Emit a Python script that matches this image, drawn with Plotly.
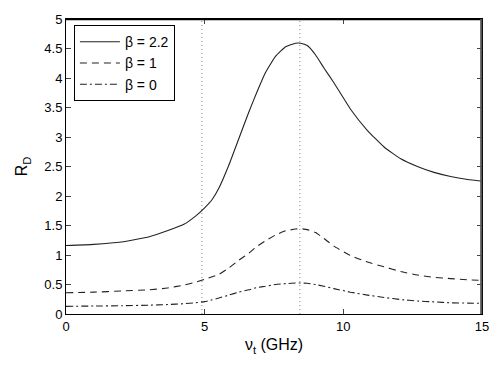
import plotly.graph_objects as go

# frequency samples (GHz)
nu = [0, 1, 2, 3, 3.65, 4.25, 4.67, 5.0, 5.27, 5.51, 5.87, 6.23, 6.59, 6.9,
      7.19, 7.56, 7.92, 8.28, 8.46, 8.7, 9.0, 9.3, 9.66, 10.26, 10.87, 11.47,
      12.07, 12.67, 13.27, 13.87, 14.48, 15]

rd_beta_22 = [1.16, 1.18, 1.22, 1.31, 1.41, 1.52, 1.66, 1.80, 1.94, 2.13, 2.52,
              2.97, 3.42, 3.78, 4.09, 4.37, 4.53, 4.59, 4.59, 4.55, 4.39, 4.17,
              3.92, 3.47, 3.11, 2.83, 2.63, 2.50, 2.40, 2.33, 2.28, 2.25]

rd_beta_1 = [0.36, 0.37, 0.39, 0.41, 0.44, 0.49, 0.54, 0.59, 0.63, 0.67, 0.78,
             0.91, 1.03, 1.15, 1.24, 1.34, 1.41, 1.44, 1.446, 1.43, 1.38, 1.28,
             1.15, 0.99, 0.88, 0.80, 0.72, 0.66, 0.62, 0.60, 0.58, 0.57]

rd_beta_0 = [0.13, 0.135, 0.14, 0.15, 0.16, 0.175, 0.19, 0.21, 0.24, 0.27, 0.32,
             0.37, 0.41, 0.45, 0.47, 0.50, 0.515, 0.525, 0.525, 0.52, 0.50, 0.47,
             0.43, 0.37, 0.32, 0.28, 0.245, 0.22, 0.205, 0.19, 0.185, 0.18]

vlines = [4.9, 8.43]

x_ticks = [0, 5, 10, 15]
y_ticks = [0, 0.5, 1, 1.5, 2, 2.5, 3, 3.5, 4, 4.5, 5]

fig = go.Figure()

series = [
    ("β = 2.2", rd_beta_22, "solid"),
    ("β = 1", rd_beta_1, "7px,5px"),
    ("β = 0", rd_beta_0, "7px,3px,2px,3px"),
]
for name, ys, dash in series:
    fig.add_trace(go.Scatter(
        x=nu, y=ys, mode="lines", name=name,
        line=dict(color="#222222", width=1.1, dash=dash, shape="spline", smoothing=0.4),
    ))

# dotted reference lines
for xv in vlines:
    fig.add_shape(type="line", x0=xv, x1=xv, y0=0, y1=5, xref="x", yref="y",
                  line=dict(color="#888888", width=1, dash="1px,3px"), layer="below")

# top and right edges of the axes box (nudged just inside the frame)
fig.add_shape(type="line", x0=0, x1=1, y0=0.998, y1=0.998, xref="paper", yref="paper",
              line=dict(color="black", width=1.2), layer="above")
fig.add_shape(type="line", x0=0.998, x1=0.998, y0=0, y1=1, xref="paper", yref="paper",
              line=dict(color="#555555", width=2), layer="above")

fig.update_layout(
    width=503, height=366,
    margin=dict(l=66, r=21, t=16, b=52),
    plot_bgcolor="white", paper_bgcolor="white",
    font=dict(family="Liberation Sans, Arial, sans-serif", size=13, color="black"),
    showlegend=True,
    legend=dict(
        x=0.019, y=0.979, xanchor="left", yanchor="top",
        bordercolor="black", borderwidth=1, bgcolor="white",
        font=dict(size=14), tracegroupgap=0, itemwidth=40,
    ),
    xaxis=dict(
        range=[0, 15], tickvals=x_ticks, ticks="inside", ticklen=5,
        showline=True, linecolor="black", linewidth=1, mirror="ticks",
        showgrid=False, zeroline=False,
        title=dict(text="ν<sub>t</sub> (GHz)", standoff=6),
    ),
    yaxis=dict(
        range=[0, 5], tickvals=y_ticks, ticks="inside", ticklen=5,
        showline=True, linecolor="black", linewidth=1, mirror="ticks",
        showgrid=False, zeroline=False,
        title=dict(text="R<sub>D</sub>", standoff=12),
    ),
)

# drop the default page margin so the figure sits at the window's corner
fig.write_html("out.html", config={"displayModeBar": False},
               post_script="document.body.style.margin='0';")
